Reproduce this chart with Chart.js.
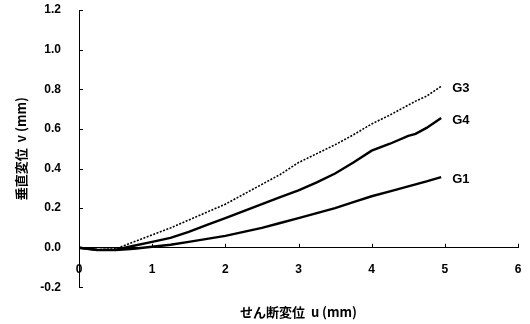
<!DOCTYPE html>
<html>
<head>
<meta charset="utf-8">
<script src="https://cdn.jsdelivr.net/npm/chart.js@4/dist/chart.umd.min.js"></script>
<style>
  html, body { margin: 0; padding: 0; background: #fff; }
  #wrap { width: 530px; height: 324px; }
</style>
</head>
<body>
<div id="wrap"><canvas id="myChart"></canvas></div>
<script>
// shear displacement u (mm)
const uValues = [0, 0.25, 0.5, 0.75, 1.0, 1.25, 1.5, 1.75, 2.0, 2.25, 2.5, 2.75, 3.0, 3.25, 3.5, 3.75, 4.0, 4.25, 4.5, 4.6, 4.75, 4.95];

// vertical displacement v (mm) for each specimen
const g3 = [0, -0.01, -0.005, 0.03, 0.065, 0.1, 0.14, 0.18, 0.22, 0.27, 0.32, 0.37, 0.43, 0.475, 0.52, 0.57, 0.625, 0.67, 0.72, 0.74, 0.765, 0.815];
const g4 = [0, -0.012, -0.01, 0.01, 0.03, 0.05, 0.08, 0.115, 0.15, 0.185, 0.22, 0.255, 0.29, 0.33, 0.375, 0.43, 0.49, 0.525, 0.565, 0.575, 0.605, 0.655];
const g1 = [0, -0.01, -0.012, -0.005, 0.005, 0.015, 0.03, 0.045, 0.06, 0.08, 0.1, 0.125, 0.15, 0.175, 0.2, 0.23, 0.26, 0.285, 0.31, 0.32, 0.335, 0.357];

const seriesNames = ['G3', 'G4', 'G1'];
const xTicks = [0, 1, 2, 3, 4, 5, 6];
const yTicks = [-0.2, 0, 0.2, 0.4, 0.6, 0.8, 1.0, 1.2];

const tickFont = { family: 'Liberation Sans, Arial, sans-serif', size: 12, weight: 'bold' };
const jpFont = { family: '"Noto Sans CJK JP", sans-serif', size: 13, weight: 'bold' };

function toPoints(ys) {
  return ys.map(function (v, i) {
    return { x: uValues[i], y: v };
  });
}

// small tick marks pointing into the plot, plus the end labels
const innerTicks = {
  id: 'innerTicks',
  afterDraw: function (chart) {
    const ctx = chart.ctx;
    const xs = chart.scales.x;
    const ys = chart.scales.y;
    const x0 = xs.getPixelForValue(0);
    const y0 = ys.getPixelForValue(0);
    ctx.save();
    ctx.strokeStyle = '#000';
    ctx.lineWidth = 1;
    ctx.beginPath();
    yTicks.forEach(function (t) {
      const py = Math.round(ys.getPixelForValue(t)) + 0.5;
      ctx.moveTo(x0, py);
      ctx.lineTo(x0 + 4, py);
    });
    xTicks.slice(1).forEach(function (t) {
      const px = Math.round(xs.getPixelForValue(t)) + 0.5;
      ctx.moveTo(px, y0);
      ctx.lineTo(px, y0 - 4);
    });
    ctx.stroke();

    ctx.fillStyle = '#000';
    ctx.font = 'bold 13px Liberation Sans, Arial, sans-serif';
    ctx.textAlign = 'left';
    ctx.textBaseline = 'middle';
    chart.data.datasets.forEach(function (ds, i) {
      const pts = chart.getDatasetMeta(i).data;
      const last = pts[pts.length - 1];
      ctx.fillText(ds.label, last.x + 11, last.y + 2);
    });
    ctx.restore();
  }
};

const data = {
  datasets: [
    {
      label: seriesNames[0],
      data: toPoints(g3),
      borderColor: '#000',
      borderWidth: 1.6,
      borderDash: [2, 1.5]
    },
    {
      label: seriesNames[1],
      data: toPoints(g4),
      borderColor: '#000',
      borderWidth: 2.4
    },
    {
      label: seriesNames[2],
      data: toPoints(g1),
      borderColor: '#000',
      borderWidth: 2.4
    }
  ]
};

const config = {
  type: 'line',
  data: data,
  options: {
    responsive: true,
    maintainAspectRatio: false,
    animation: false,
    layout: { padding: { top: 10, right: 12, bottom: 0, left: 0 } },
    elements: {
      point: { radius: 0 },
      line: { tension: 0 }
    },
    plugins: {
      legend: { display: false },
      tooltip: { enabled: false },
      title: {
        display: true,
        position: 'bottom',
        fullSize: false,
        text: 'せん断変位  u (mm)',
        color: '#000',
        font: jpFont,
        padding: { top: 17, bottom: 4 }
      }
    },
    scales: {
      x: {
        type: 'linear',
        position: { y: 0 },
        min: 0,
        max: 6,
        grid: { drawOnChartArea: false, drawTicks: false },
        border: { display: true, color: '#000', width: 1 },
        afterBuildTicks: function (scale) {
          scale.ticks = xTicks.map(function (v) { return { value: v }; });
        },
        afterFit: function (scale) {
          // label padding should not push the plot edges inward
          scale.paddingLeft = 0;
          scale.paddingRight = 0;
        },
        ticks: {
          color: '#000',
          font: tickFont,
          padding: 15,
          maxRotation: 0,
          callback: function (v) { return String(v); }
        }
      },
      y: {
        type: 'linear',
        position: 'left',
        min: -0.2,
        max: 1.2,
        grid: { drawOnChartArea: false, drawTicks: false },
        border: { display: true, color: '#000', width: 1 },
        afterBuildTicks: function (scale) {
          scale.ticks = yTicks.map(function (v) { return { value: v }; });
        },
        afterFit: function (scale) {
          scale.width = 79;
          scale.paddingTop = 7;
          scale.paddingBottom = 7;
        },
        ticks: {
          color: '#000',
          font: tickFont,
          padding: 18,
          callback: function (v) { return Number(v).toFixed(1); }
        },
        title: {
          display: true,
          text: '垂直変位  v (mm)',
          color: '#000',
          font: jpFont,
          padding: { top: 13, bottom: 4 }
        }
      }
    }
  },
  plugins: [innerTicks]
};

const ctx = document.getElementById('myChart');
new Chart(ctx, config);
</script>
</body>
</html>
